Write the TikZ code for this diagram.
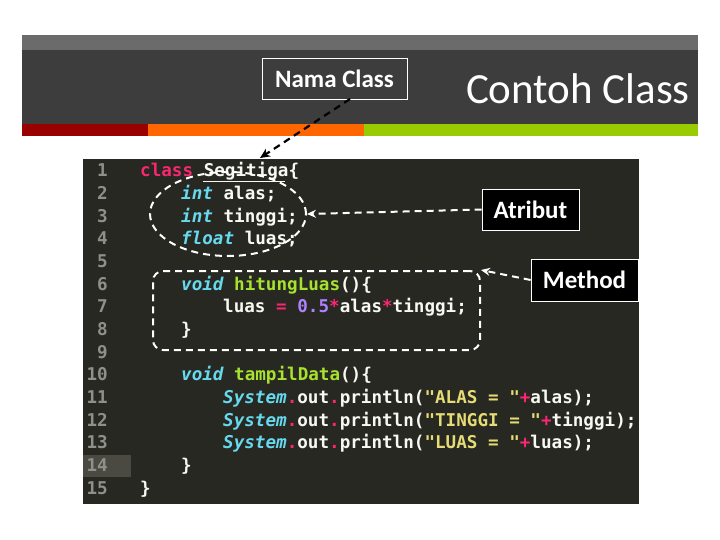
\documentclass[tikz,border=0pt]{standalone}
\usepackage{fontspec}
\setmainfont{Carlito}
\setmonofont{DejaVu Sans Mono}
\usetikzlibrary{shapes.geometric,arrows.meta}
\definecolor{hdrgray}{HTML}{6B6B6B}
\definecolor{hdrdark}{HTML}{3D3D3D}
\definecolor{barred}{HTML}{990000}
\definecolor{barorange}{HTML}{FF6600}
\definecolor{bargreen}{HTML}{99CC00}
\definecolor{codebg}{HTML}{272822}
\definecolor{curline}{HTML}{4A4A42}
\definecolor{lnum}{HTML}{8F908A}
\definecolor{kpink}{HTML}{F92672}
\definecolor{kcyan}{HTML}{66D9EF}
\definecolor{kgreen}{HTML}{A6E22E}
\definecolor{kpurple}{HTML}{AE81FF}
\definecolor{kyellow}{HTML}{E6DB74}
\definecolor{kwhite}{HTML}{F8F8F2}
\newcommand{\kp}[1]{\textcolor{kpink}{#1}}
\newcommand{\kc}[1]{\textcolor{kcyan}{\itshape #1}}
\newcommand{\kg}[1]{\textcolor{kgreen}{#1}}
\newcommand{\kv}[1]{\textcolor{kpurple}{#1}}
\newcommand{\ky}[1]{\textcolor{kyellow}{#1}}
\newcommand{\ks}[1]{\textcolor{kcyan}{\itshape #1}}
\tikzset{
  code/.style={anchor=base west,inner sep=0pt,text=kwhite,font=\ttfamily\bfseries\fontsize{17.6}{17.6}\selectfont},
  lno/.style={anchor=base east,inner sep=0pt,text=lnum,font=\ttfamily\bfseries\fontsize{17.6}{17.6}\selectfont},
  lbl/.style={draw=white,line width=0.8pt,text=white,fill=black,inner sep=0pt,font=\bfseries\fontsize{25}{25}\selectfont},
  wdash/.style={draw=white,line width=2pt,dash pattern=on 7pt off 5pt},
  warrow/.style={wdash,-{Stealth[length=9pt,width=8pt]}},
}
\begin{document}
\begin{tikzpicture}[x=1pt,y=-1pt]
\useasboundingbox (0,0) rectangle (720,540);
\fill[white] (0,0) rectangle (720,540);
% header
\fill[hdrgray] (22,35) rectangle (698,50);
\fill[hdrdark] (22,50) rectangle (698,124);
\fill[barred] (22,124) rectangle (148,136);
\fill[barorange] (148,124) rectangle (364,136);
\fill[bargreen] (364,124) rectangle (698,136);
\node[draw=white,line width=0.8pt,text=white,inner sep=0pt,minimum width=145pt,minimum height=41pt,font=\bfseries\fontsize{25}{25}\selectfont] (nama) at (334.5,78.5) {Nama Class};
\node[text=white,anchor=east,inner sep=0pt,font=\fontsize{43}{43}\selectfont] (title) at (690,89) {Contoh Class};
% code panel
\fill[codebg] (83,159) rectangle (639,504);
\fill[curline] (83,455) rectangle (131,477);
\foreach \i in {1,...,15} {
  \node[lno] (n\i) at (108,{177+(\i-1)*22.65}) {\i};
}
\def\Y#1{{177+(#1-1)*22.65}}
\node[code] (l1) at (140,\Y{1}) {\kp{class} Segitiga\{};
\draw[kwhite,line width=1pt] (203,182) -- (285,182);
\node[code] (l2) at (181,\Y{2}) {\kc{int} alas;};
\node[code] (l3) at (181,\Y{3}) {\kc{int} tinggi;};
\node[code] (l4) at (181,\Y{4}) {\kc{float} luas;};
\node[code] (l6) at (181,\Y{6}) {\kc{void} \kg{hitungLuas}()\{};
\node[code] (l7) at (223,\Y{7}) {luas \kp{=} \kv{0.5}\kp{*}alas\kp{*}tinggi;};
\node[code] (l8) at (181,\Y{8}) {\}};
\node[code] (l10) at (181,\Y{10}) {\kc{void} \kg{tampilData}()\{};
\node[code] (l11) at (223,\Y{11}) {\ks{System}\kp{.}out\kp{.}println(\ky{"ALAS = "}\kp{+}alas);};
\node[code] (l12) at (223,\Y{12}) {\ks{System}\kp{.}out\kp{.}println(\ky{"TINGGI = "}\kp{+}tinggi);};
\node[code] (l13) at (223,\Y{13}) {\ks{System}\kp{.}out\kp{.}println(\ky{"LUAS = "}\kp{+}luas);};
\node[code] (l14) at (181,\Y{14}) {\}};
\node[code] (l15) at (140,\Y{15}) {\}};
% annotations
\node[ellipse,wdash,minimum width=156pt,minimum height=84pt] (attr) at (228,214) {};
\node[rectangle,rounded corners=10pt,wdash,minimum width=327pt,minimum height=79pt] (meth) at (316.5,310.5) {};
\node[lbl,minimum width=97pt,minimum height=41pt] (atribut) at (530.5,209.5) {Atribut};
\node[lbl,minimum width=107pt,minimum height=42pt] (method) at (584.5,280) {Method};
\draw[warrow] (atribut.west) -- (attr.east);
\draw[warrow] (method.west) -- (meth.north east);
\draw[draw=black,line width=2.2pt,dash pattern=on 7pt off 5pt,-{Stealth[length=10pt,width=9pt]}] (350,99) -- (260,158);
\end{tikzpicture}
\end{document}
